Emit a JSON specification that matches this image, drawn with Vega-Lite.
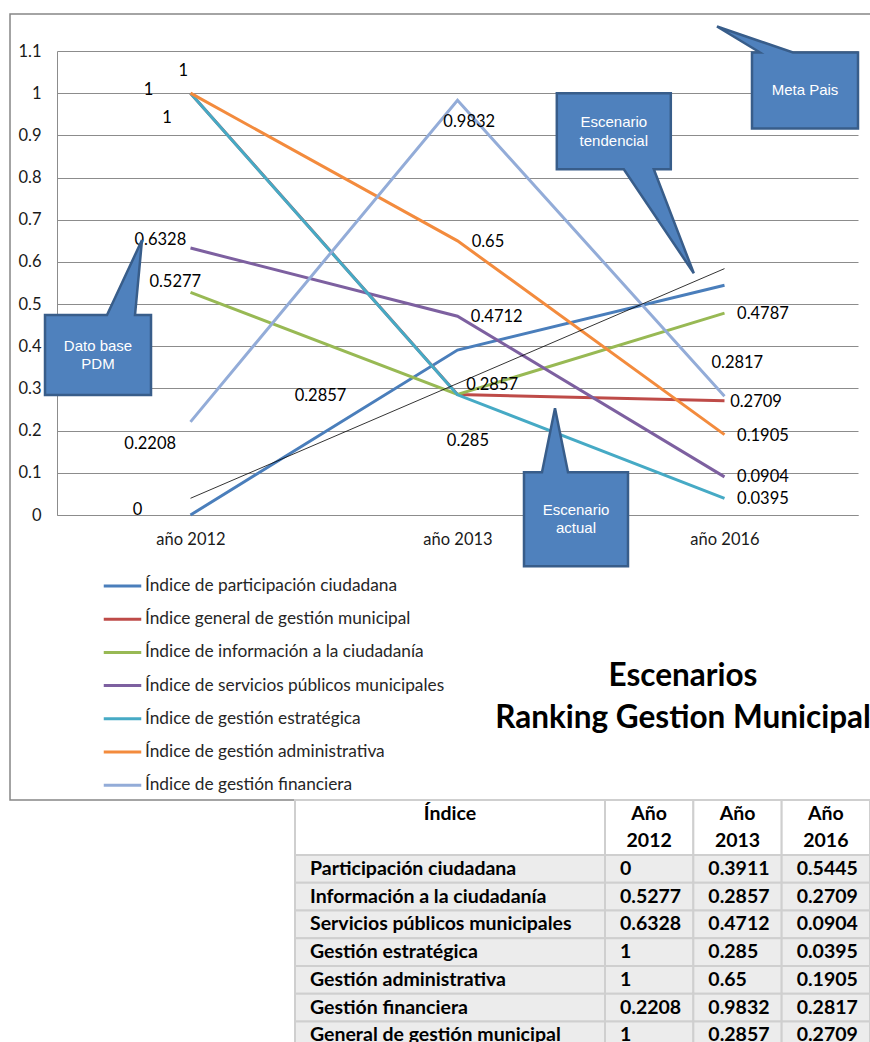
{
  "$schema": "https://vega.github.io/schema/vega-lite/v6.json",
  "width": 870,
  "height": 1042,
  "autosize": "none",
  "padding": 0,
  "background": "white",
  "config": {"view": {"stroke": null}, "font": "Lato"},
  "datasets": {
    "series": [
      {"serie": "Índice de participación ciudadana", "periodo": 1, "valor": 0},
      {"serie": "Índice de participación ciudadana", "periodo": 2, "valor": 0.3911},
      {"serie": "Índice de participación ciudadana", "periodo": 3, "valor": 0.5445},
      {"serie": "Índice general de gestión municipal", "periodo": 1, "valor": 1},
      {"serie": "Índice general de gestión municipal", "periodo": 2, "valor": 0.2857},
      {"serie": "Índice general de gestión municipal", "periodo": 3, "valor": 0.2709},
      {"serie": "Índice de información a la ciudadanía", "periodo": 1, "valor": 0.5277},
      {"serie": "Índice de información a la ciudadanía", "periodo": 2, "valor": 0.2857},
      {"serie": "Índice de información a la ciudadanía", "periodo": 3, "valor": 0.4787},
      {"serie": "Índice de servicios públicos municipales", "periodo": 1, "valor": 0.6328},
      {"serie": "Índice de servicios públicos municipales", "periodo": 2, "valor": 0.4712},
      {"serie": "Índice de servicios públicos municipales", "periodo": 3, "valor": 0.0904},
      {"serie": "Índice de gestión estratégica", "periodo": 1, "valor": 1},
      {"serie": "Índice de gestión estratégica", "periodo": 2, "valor": 0.285},
      {"serie": "Índice de gestión estratégica", "periodo": 3, "valor": 0.0395},
      {"serie": "Índice de gestión administrativa", "periodo": 1, "valor": 1},
      {"serie": "Índice de gestión administrativa", "periodo": 2, "valor": 0.65},
      {"serie": "Índice de gestión administrativa", "periodo": 3, "valor": 0.1905},
      {"serie": "Índice de gestión financiera", "periodo": 1, "valor": 0.2208},
      {"serie": "Índice de gestión financiera", "periodo": 2, "valor": 0.9832},
      {"serie": "Índice de gestión financiera", "periodo": 3, "valor": 0.2817}
    ],
    "tendencia": [
      {"periodo": 1, "valor": 0.0396},
      {"periodo": 3, "valor": 0.5841}
    ],
    "etiquetas": [
      {"texto": "1", "periodo": 0.973, "nivel": 1.053},
      {"texto": "1", "periodo": 0.843, "nivel": 1.008},
      {"texto": "1", "periodo": 0.912, "nivel": 0.941},
      {"texto": "0.6328", "periodo": 0.887, "nivel": 0.652},
      {"texto": "0.5277", "periodo": 0.943, "nivel": 0.553},
      {"texto": "0.2208", "periodo": 0.849, "nivel": 0.168},
      {"texto": "0", "periodo": 0.802, "nivel": 0.012},
      {"texto": "0.2857", "periodo": 1.487, "nivel": 0.282},
      {"texto": "0.9832", "periodo": 2.044, "nivel": 0.9325},
      {"texto": "0.65", "periodo": 2.114, "nivel": 0.648},
      {"texto": "0.4712", "periodo": 2.147, "nivel": 0.47},
      {"texto": "0.2857", "periodo": 2.13, "nivel": 0.308},
      {"texto": "0.285", "periodo": 2.039, "nivel": 0.175},
      {"texto": "0.4787", "periodo": 3.144, "nivel": 0.4765},
      {"texto": "0.2817", "periodo": 3.048, "nivel": 0.361},
      {"texto": "0.2709", "periodo": 3.118, "nivel": 0.2687},
      {"texto": "0.1905", "periodo": 3.144, "nivel": 0.1873},
      {"texto": "0.0904", "periodo": 3.144, "nivel": 0.0893},
      {"texto": "0.0395", "periodo": 3.144, "nivel": 0.0372}
    ],
    "notas": [
      {"nota": "Dato base\nPDM", "forma": "dato", "periodo": 0.6536, "nivel": 0.3793},
      {"nota": "Escenario\ntendencial", "forma": "tendencial", "periodo": 2.5854, "nivel": 0.9097},
      {"nota": "Meta  Pais", "forma": "meta", "periodo": 3.3015, "nivel": 1.0064},
      {"nota": "Escenario\nactual", "forma": "actual", "periodo": 2.4438, "nivel": -0.01}
    ],
    "tabla": [
      {"indice": "Participación ciudadana", "a2012": 0, "a2013": 0.3911, "a2016": 0.5445},
      {"indice": "Información a la ciudadanía", "a2012": 0.5277, "a2013": 0.2857, "a2016": 0.2709},
      {"indice": "Servicios públicos municipales", "a2012": 0.6328, "a2013": 0.4712, "a2016": 0.0904},
      {"indice": "Gestión estratégica", "a2012": 1, "a2013": 0.285, "a2016": 0.0395},
      {"indice": "Gestión administrativa", "a2012": 1, "a2013": 0.65, "a2016": 0.1905},
      {"indice": "Gestión financiera", "a2012": 0.2208, "a2013": 0.9832, "a2016": 0.2817},
      {"indice": "General de gestión municipal", "a2012": 1, "a2013": 0.2857, "a2016": 0.2709}
    ],
    "columnas": [
      {"columna": "indice", "titulo": "Índice"},
      {"columna": "a2012", "titulo": "Año\n2012"},
      {"columna": "a2013", "titulo": "Año\n2013"},
      {"columna": "a2016", "titulo": "Año\n2016"}
    ]
  },
  "layer": [
    {
      "layer": [
        {
          "data": {"name": "series"},
          "mark": {"type": "line", "strokeWidth": 3},
          "encoding": {
            "x": {
              "field": "periodo", "type": "quantitative", "title": null,
              "scale": {"domain": [0.5, 3.5], "range": [57, 858], "nice": false, "zero": false},
              "axis": {
                "values": [1, 2, 3],
                "labelExpr": "datum.value == 1 ? 'año 2012' : datum.value == 2 ? 'año 2013' : 'año 2016'",
                "offset": -527, "grid": false, "ticks": false, "domain": true,
                "domainColor": "#8c8c8c", "labelFont": "Lato", "labelFontSize": 16.5,
                "labelColor": "#1a1a1a", "labelPadding": 16
              }
            },
            "y": {
              "field": "valor", "type": "quantitative", "title": null,
              "scale": {"domain": [0, 1.1], "range": [515, 51], "nice": false, "zero": false},
              "axis": {
                "values": [0, 0.1, 0.2, 0.3, 0.4, 0.5, 0.6, 0.7, 0.8, 0.9, 1, 1.1],
                "format": "~g", "offset": -57, "grid": true, "gridColor": "#8c8c8c",
                "gridWidth": 1, "ticks": false, "domain": true, "domainColor": "#8c8c8c",
                "labelFont": "Lato", "labelFontSize": 16.5, "labelColor": "#1a1a1a",
                "labelPadding": 16
              }
            },
            "color": {
              "field": "serie", "type": "nominal",
              "scale": {
                "domain": [
                  "Índice de participación ciudadana",
                  "Índice general de gestión municipal",
                  "Índice de información a la ciudadanía",
                  "Índice de servicios públicos municipales",
                  "Índice de gestión estratégica",
                  "Índice de gestión administrativa",
                  "Índice de gestión financiera"
                ],
                "range": ["#4A7EBB", "#BE4B48", "#98B954", "#7D60A0", "#46AAC5", "#F38B3D", "#93ACD8"]
              },
              "legend": {
                "orient": "none", "legendX": 102, "legendY": 565.5, "title": null,
                "symbolType": "stroke", "symbolSize": 1406, "symbolStrokeWidth": 3,
                "labelFont": "Lato", "labelFontSize": 17.3, "labelColor": "#262626",
                "labelLimit": 0, "labelOffset": 2, "rowPadding": 4.2, "padding": 0
              }
            }
          }
        },
        {
          "data": {"values": [{}]},
          "mark": {"type": "rect", "filled": false, "stroke": "#868686", "strokeWidth": 1.5},
          "encoding": {
            "x": {"datum": 0.324, "type": "quantitative", "title": null, "scale": {"domain": [0.5, 3.5], "range": [57, 858], "nice": false, "zero": false}},
            "x2": {"datum": 3.62},
            "y": {"datum": 1.1878, "type": "quantitative", "title": null, "scale": {"domain": [0, 1.1], "range": [515, 51], "nice": false, "zero": false}},
            "y2": {"datum": -0.6757}
          }
        },
        {
          "data": {"name": "tendencia"},
          "mark": {"type": "line", "color": "#000000", "strokeWidth": 0.8},
          "encoding": {
            "x": {"field": "periodo", "type": "quantitative", "title": null, "scale": {"domain": [0.5, 3.5], "range": [57, 858], "nice": false, "zero": false}},
            "y": {"field": "valor", "type": "quantitative", "title": null, "scale": {"domain": [0, 1.1], "range": [515, 51], "nice": false, "zero": false}}
          }
        },
        {
          "data": {"name": "etiquetas"},
          "mark": {"type": "text", "font": "Lato", "fontSize": 16.5, "color": "#000000", "align": "center", "baseline": "middle"},
          "encoding": {
            "x": {"field": "periodo", "type": "quantitative", "title": null, "scale": {"domain": [0.5, 3.5], "range": [57, 858], "nice": false, "zero": false}},
            "y": {"field": "nivel", "type": "quantitative", "title": null, "scale": {"domain": [0, 1.1], "range": [515, 51], "nice": false, "zero": false}},
            "text": {"field": "texto", "type": "nominal"}
          }
        },
        {
          "data": {"name": "notas"},
          "mark": {"type": "point", "filled": true, "size": 4, "opacity": 1, "fill": "#4F81BD", "stroke": "#385D8A", "strokeWidth": 2.5, "strokeOpacity": 1, "fillOpacity": 1},
          "encoding": {
            "x": {"field": "periodo", "type": "quantitative", "title": null, "scale": {"domain": [0.5, 3.5], "range": [57, 858], "nice": false, "zero": false}},
            "y": {"field": "nivel", "type": "quantitative", "title": null, "scale": {"domain": [0, 1.1], "range": [515, 51], "nice": false, "zero": false}},
            "shape": {
              "field": "forma", "type": "nominal", "legend": null,
              "scale": {
                "domain": ["dato", "tendencial", "meta", "actual"],
                "range": [
                  "M-53,-40L9,-40L44,-115L37,-40L53,-40L53,40L-53,40Z",
                  "M-57,-38L57,-38L57,38L40,38L80,142L10,38L-57,38Z",
                  "M-53,-38L-45,-38L-88,-64L-12,-38L53,-38L53,38L-53,38Z",
                  "M-52,-47L-34,-47L-21,-111L-8,-47L52,-47L52,47L-52,47Z"
                ]
              }
            }
          }
        },
        {
          "data": {"name": "notas"},
          "transform": [{"filter": "datum.forma != 'meta'"}],
          "mark": {"type": "text", "font": "Liberation Sans Narrow, Arial Narrow, Liberation Sans", "fontSize": 15, "color": "#ffffff", "lineBreak": "\n", "lineHeight": 18.5, "align": "center", "baseline": "middle", "dy": -9.25},
          "encoding": {
            "x": {"field": "periodo", "type": "quantitative", "title": null, "scale": {"domain": [0.5, 3.5], "range": [57, 858], "nice": false, "zero": false}},
            "y": {"field": "nivel", "type": "quantitative", "title": null, "scale": {"domain": [0, 1.1], "range": [515, 51], "nice": false, "zero": false}},
            "text": {"field": "nota", "type": "nominal"}
          }
        },
        {
          "data": {"name": "notas"},
          "transform": [{"filter": "datum.forma == 'meta'"}],
          "mark": {"type": "text", "font": "Liberation Sans Narrow, Arial Narrow, Liberation Sans", "fontSize": 15, "color": "#ffffff", "align": "center", "baseline": "middle"},
          "encoding": {
            "x": {"field": "periodo", "type": "quantitative", "title": null, "scale": {"domain": [0.5, 3.5], "range": [57, 858], "nice": false, "zero": false}},
            "y": {"field": "nivel", "type": "quantitative", "title": null, "scale": {"domain": [0, 1.1], "range": [515, 51], "nice": false, "zero": false}},
            "text": {"field": "nota", "type": "nominal"}
          }
        },
        {
          "data": {"values": [{}]},
          "mark": {"type": "text", "font": "Lato", "fontWeight": "bold", "fontSize": 31.5, "lineHeight": 42, "align": "center", "baseline": "middle", "color": "#000000"},
          "encoding": {
            "x": {"datum": 2.8446, "type": "quantitative", "title": null, "scale": {"domain": [0.5, 3.5], "range": [57, 858], "nice": false, "zero": false}},
            "y": {"datum": -0.3841, "type": "quantitative", "title": null, "scale": {"domain": [0, 1.1], "range": [515, 51], "nice": false, "zero": false}},
            "text": {"value": ["Escenarios", "Ranking Gestion Municipal"]}
          }
        }
      ]
    },
    {
      "data": {"name": "tabla"},
      "layer": [
        {
          "mark": {"type": "rect", "fill": "#ececec", "stroke": "#cfcfcf", "strokeWidth": 2},
          "encoding": {
            "x": {"datum": 0, "type": "quantitative", "scale": {"domain": [0, 1], "range": [295, 605]}, "axis": null},
            "x2": {"datum": 1},
            "y": {"field": "indice", "type": "nominal", "sort": null, "axis": null,
                  "scale": {"range": [855, 1049.3], "paddingInner": 0, "paddingOuter": 0}}
          }
        },
        {
          "mark": {"type": "text", "align": "left", "dx": 15, "baseline": "middle", "font": "Lato", "fontWeight": "bold", "fontSize": 19.5, "color": "#000000"},
          "encoding": {
            "x": {"datum": 0, "type": "quantitative", "scale": {"domain": [0, 1], "range": [295, 605]}, "axis": null},
            "y": {"field": "indice", "type": "nominal", "sort": null, "axis": null,
                  "scale": {"range": [855, 1049.3], "paddingInner": 0, "paddingOuter": 0}},
            "text": {"field": "indice", "type": "nominal"}
          }
        }
      ]
    },
    {
      "data": {"name": "tabla"},
      "transform": [{"fold": ["a2012", "a2013", "a2016"], "as": ["columna", "valor"]}],
      "layer": [
        {
          "mark": {"type": "rect", "fill": "#ececec", "stroke": "#cfcfcf", "strokeWidth": 2},
          "encoding": {
            "x": {"field": "columna", "type": "nominal", "sort": null, "axis": null,
                  "scale": {"domain": ["a2012", "a2013", "a2016"], "range": [605, 870], "paddingInner": 0, "paddingOuter": 0}},
            "y": {"field": "indice", "type": "nominal", "sort": null, "axis": null,
                  "scale": {"range": [855, 1049.3], "paddingInner": 0, "paddingOuter": 0}}
          }
        },
        {
          "mark": {"type": "text", "align": "left", "dx": 15, "baseline": "middle", "font": "Lato", "fontWeight": "bold", "fontSize": 19.5, "color": "#000000"},
          "encoding": {
            "x": {"field": "columna", "type": "nominal", "sort": null, "axis": null, "bandPosition": 0,
                  "scale": {"domain": ["a2012", "a2013", "a2016"], "range": [605, 870], "paddingInner": 0, "paddingOuter": 0}},
            "y": {"field": "indice", "type": "nominal", "sort": null, "axis": null,
                  "scale": {"range": [855, 1049.3], "paddingInner": 0, "paddingOuter": 0}},
            "text": {"field": "valor", "type": "nominal"}
          }
        }
      ]
    },
    {
      "data": {"name": "columnas"},
      "transform": [{"filter": "datum.columna == 'indice'"}],
      "layer": [
        {
          "mark": {"type": "rect", "fill": "#ffffff", "stroke": "#cfcfcf", "strokeWidth": 2},
          "encoding": {
            "x": {"datum": 0, "type": "quantitative", "scale": {"domain": [0, 1], "range": [295, 605]}, "axis": null},
            "x2": {"datum": 1},
            "y": {"datum": 0, "type": "quantitative", "scale": {"domain": [0, 1], "range": [800, 855]}, "axis": null},
            "y2": {"datum": 1}
          }
        },
        {
          "mark": {"type": "text", "align": "center", "baseline": "middle", "font": "Lato", "fontWeight": "bold", "fontSize": 19.5, "color": "#000000"},
          "encoding": {
            "x": {"datum": 0.5, "type": "quantitative", "scale": {"domain": [0, 1], "range": [295, 605]}, "axis": null},
            "y": {"datum": 0.255, "type": "quantitative", "scale": {"domain": [0, 1], "range": [800, 855]}, "axis": null},
            "text": {"field": "titulo", "type": "nominal"}
          }
        }
      ]
    },
    {
      "data": {"name": "columnas"},
      "transform": [{"filter": "datum.columna != 'indice'"}],
      "layer": [
        {
          "mark": {"type": "rect", "fill": "#ffffff", "stroke": "#cfcfcf", "strokeWidth": 2},
          "encoding": {
            "x": {"field": "columna", "type": "nominal", "sort": null, "axis": null,
                  "scale": {"domain": ["a2012", "a2013", "a2016"], "range": [605, 870], "paddingInner": 0, "paddingOuter": 0}},
            "y": {"datum": 0, "type": "quantitative", "scale": {"domain": [0, 1], "range": [800, 855]}, "axis": null},
            "y2": {"datum": 1}
          }
        },
        {
          "mark": {"type": "text", "align": "center", "baseline": "middle", "lineBreak": "\n", "lineHeight": 27, "font": "Lato", "fontWeight": "bold", "fontSize": 19.5, "color": "#000000"},
          "encoding": {
            "x": {"field": "columna", "type": "nominal", "sort": null, "axis": null,
                  "scale": {"domain": ["a2012", "a2013", "a2016"], "range": [605, 870], "paddingInner": 0, "paddingOuter": 0}},
            "y": {"datum": 0.2545, "type": "quantitative", "scale": {"domain": [0, 1], "range": [800, 855]}, "axis": null},
            "text": {"field": "titulo", "type": "nominal"}
          }
        }
      ]
    }
  ],
  "resolve": {
    "scale": {"x": "independent", "y": "independent", "color": "independent", "shape": "independent"},
    "axis": {"x": "independent", "y": "independent"}
  }
}
